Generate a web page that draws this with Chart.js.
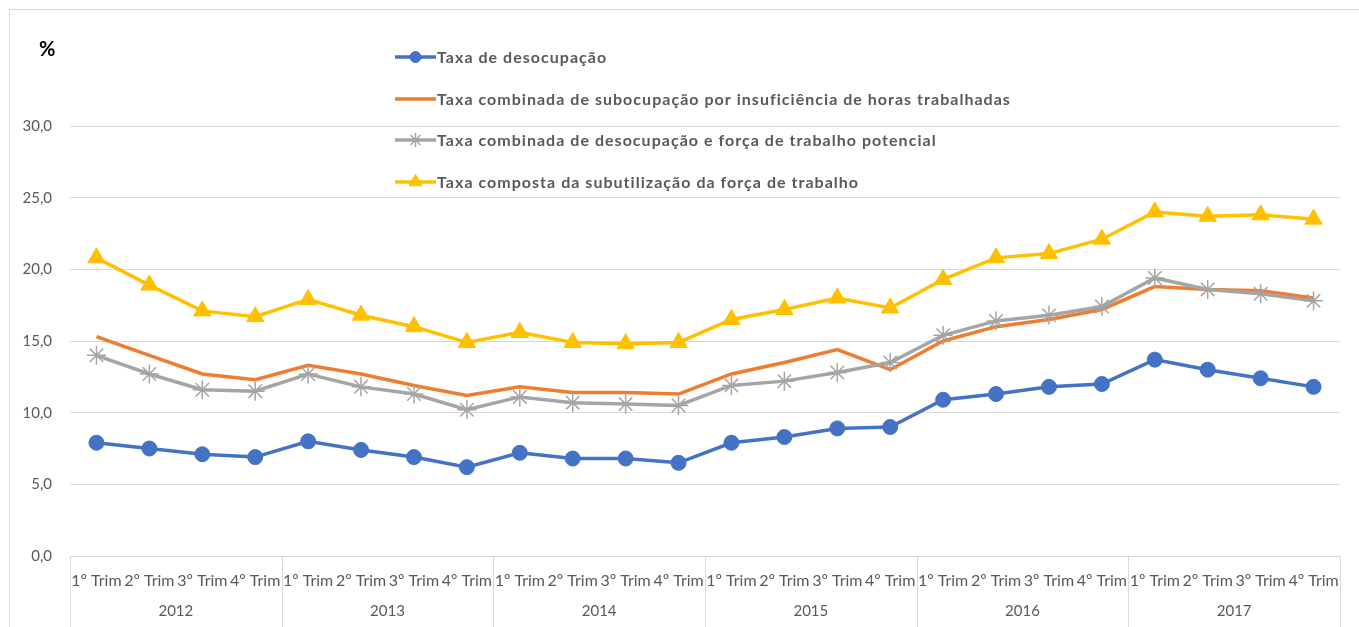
<!DOCTYPE html>
<html>
<head>
<meta charset="utf-8">
<script src="https://cdn.jsdelivr.net/npm/chart.js@4.4.1/dist/chart.umd.min.js"></script>
<style>
  html, body { margin: 0; padding: 0; background: #ffffff; }
  #wrap { position: relative; width: 1359px; height: 627px; }
</style>
</head>
<body>
<div id="wrap"><canvas id="c" width="1359" height="627"></canvas></div>
<script>
const years = ['2012', '2013', '2014', '2015', '2016', '2017'];
const quarters = ['1º Trim', '2º Trim', '3º Trim', '4º Trim'];
const yTickLabels = ['0,0', '5,0', '10,0', '15,0', '20,0', '25,0', '30,0'];
const seriesNames = [
  'Taxa de desocupação',
  'Taxa combinada de subocupação por insuficiência de horas trabalhadas',
  'Taxa combinada de desocupação e força de trabalho potencial',
  'Taxa composta da subutilização da força de trabalho'
];
const desocupacao = [7.9, 7.5, 7.1, 6.9, 8.0, 7.4, 6.9, 6.2, 7.2, 6.8, 6.8, 6.5, 7.9, 8.3, 8.9, 9.0, 10.9, 11.3, 11.8, 12.0, 13.7, 13.0, 12.4, 11.8];
const subocupacao = [15.3, 14.0, 12.7, 12.3, 13.3, 12.7, 11.9, 11.2, 11.8, 11.4, 11.4, 11.3, 12.7, 13.5, 14.4, 13.0, 15.0, 16.0, 16.5, 17.2, 18.8, 18.6, 18.5, 18.0];
const forcaPotencial = [14.0, 12.7, 11.6, 11.5, 12.7, 11.8, 11.3, 10.2, 11.1, 10.7, 10.6, 10.5, 11.9, 12.2, 12.8, 13.5, 15.4, 16.4, 16.8, 17.4, 19.4, 18.6, 18.3, 17.8];
const subutilizacao = [20.8, 18.9, 17.1, 16.7, 17.9, 16.8, 16.0, 14.9, 15.6, 14.9, 14.8, 14.9, 16.5, 17.2, 18.0, 17.3, 19.3, 20.8, 21.1, 22.1, 24.0, 23.7, 23.8, 23.5];

const labels = years.flatMap(() => quarters);
const FONT = 'Lato, "Open Sans", sans-serif';
const TXT = '#595959';
const GRID = '#d9d9d9';

const colors = ['#4472C4', '#ED7D31', '#A5A5A5', '#FFC000'];
const styles = [
  { pointStyle: 'circle', radius: 7.5, bw: 1, legendR: 5.5 },
  { pointStyle: false, radius: 0, bw: 0, legendR: 0 },
  { pointStyle: 'star', radius: 9.5, bw: 1.5, legendR: 7 },
  { pointStyle: 'triangle', radius: 10, bw: 1, legendR: 7.5 }
];
const values = [desocupacao, subocupacao, forcaPotencial, subutilizacao];

const datasets = values.map((v, i) => ({
  label: seriesNames[i],
  data: v,
  borderColor: colors[i],
  backgroundColor: colors[i],
  borderWidth: 3.5,
  pointStyle: styles[i].pointStyle,
  pointRadius: styles[i].radius,
  pointHoverRadius: styles[i].radius,
  pointBorderWidth: styles[i].bw,
  pointBorderColor: colors[i],
  pointBackgroundColor: colors[i],
  tension: 0,
  order: 4 - i
}));

const framePlugin = {
  id: 'frame',
  beforeDraw(chart) {
    const ctx = chart.ctx;
    ctx.save();
    ctx.fillStyle = '#ffffff';
    ctx.fillRect(0, 0, chart.width, chart.height);
    ctx.strokeStyle = GRID;
    ctx.lineWidth = 1;
    ctx.beginPath();
    ctx.moveTo(9.5, chart.height + 2);
    ctx.lineTo(9.5, 9.5);
    ctx.lineTo(chart.width + 2, 9.5);
    ctx.stroke();
    ctx.fillStyle = '#000000';
    ctx.font = 'bold 20px ' + FONT;
    ctx.textAlign = 'left';
    ctx.textBaseline = 'middle';
    ctx.fillText('%', 39, 50);
    ctx.restore();
  }
};

const yearPlugin = {
  id: 'years',
  afterDraw(chart) {
    const ctx = chart.ctx;
    const xs = chart.scales.x;
    const area = chart.chartArea;
    const step = (area.right - area.left) / labels.length;
    ctx.save();
    ctx.strokeStyle = GRID;
    ctx.lineWidth = 1;
    for (let k = 0; k <= years.length; k++) {
      const idx = k * quarters.length;
      const px = Math.round(idx < labels.length ? xs.getPixelForValue(idx) - step / 2 : xs.getPixelForValue(labels.length - 1) + step / 2) + 0.5;
      ctx.beginPath();
      ctx.moveTo(px, area.bottom);
      ctx.lineTo(px, chart.height);
      ctx.stroke();
    }
    ctx.fillStyle = TXT;
    ctx.font = '15px ' + FONT;
    ctx.textAlign = 'center';
    ctx.textBaseline = 'middle';
    years.forEach((y, k) => {
      const a = xs.getPixelForValue(k * 4);
      const b = xs.getPixelForValue(k * 4 + 3);
      ctx.fillText(y, (a + b) / 2, 611);
    });
    ctx.restore();
  }
};

const legendPlugin = {
  id: 'customLegend',
  afterDraw(chart) {
    const ctx = chart.ctx;
    const x0 = 395, len = 41, tx = 437;
    const ys = [57, 99, 140, 182];
    ctx.save();
    const fs = 16;
    ctx.font = 'bold ' + fs + 'px ' + FONT;
    const txt = seriesNames[1];
    const w = ctx.measureText(txt).width;
    const spacing = Math.max(0, (573 - w) / (txt.length - 1));
    datasets.forEach((ds, i) => {
      const y = ys[i];
      ctx.strokeStyle = ds.borderColor;
      ctx.lineWidth = 3.5;
      ctx.beginPath();
      ctx.moveTo(x0, y);
      ctx.lineTo(x0 + len, y);
      ctx.stroke();
      if (ds.pointStyle) {
        ctx.fillStyle = ds.backgroundColor;
        ctx.strokeStyle = ds.borderColor;
        ctx.lineWidth = ds.pointBorderWidth;
        Chart.helpers.drawPoint(ctx, { pointStyle: ds.pointStyle, radius: styles[i].legendR, borderWidth: ds.pointBorderWidth, rotation: 0 }, x0 + len / 2, y);
      }
      ctx.fillStyle = TXT;
      ctx.font = 'bold ' + fs + 'px ' + FONT;
      if ('letterSpacing' in ctx) ctx.letterSpacing = spacing.toFixed(2) + 'px';
      ctx.textAlign = 'left';
      ctx.textBaseline = 'middle';
      ctx.fillText(ds.label, tx, y + 1);
      if ('letterSpacing' in ctx) ctx.letterSpacing = '0px';
    });
    ctx.restore();
  }
};

new Chart(document.getElementById('c'), {
  type: 'line',
  data: { labels: labels, datasets: datasets },
  options: {
    responsive: false,
    animation: false,
    events: [],
    layout: { padding: { top: 126, right: 19, left: 0, bottom: 0 } },
    plugins: {
      legend: { display: false },
      tooltip: { enabled: false },
      title: { display: false }
    },
    scales: {
      x: {
        type: 'category',
        offset: true,
        grid: { display: false, drawTicks: false },
        border: { display: false },
        ticks: {
          autoSkip: false,
          maxRotation: 0,
          minRotation: 0,
          padding: 15,
          color: TXT,
          font: { family: FONT, size: 16 }
        },
        afterFit(scale) { scale.height = 71; }
      },
      y: {
        min: 0,
        max: 30,
        grid: { color: GRID, lineWidth: 1, drawTicks: false },
        border: { display: false },
        ticks: {
          stepSize: 5,
          padding: 18,
          color: TXT,
          font: { family: FONT, size: 15 },
          callback: (v) => yTickLabels[Math.round(v / 5)]
        },
        afterFit(scale) { scale.width = 70; }
      }
    }
  },
  plugins: [framePlugin, yearPlugin, legendPlugin]
});
</script>
</body>
</html>
